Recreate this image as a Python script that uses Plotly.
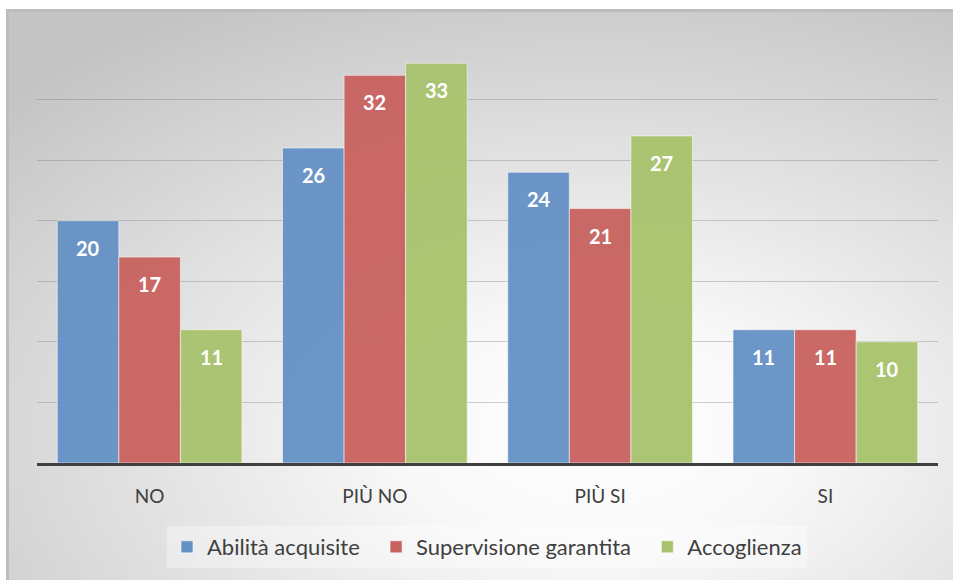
import base64
import plotly.graph_objects as go

categories = ["NO", "PIÙ NO", "PIÙ SI", "SI"]
series_names = ["Abilità acquisite", "Supervisione garantita", "Accoglienza"]
abilita = [20, 26, 24, 11]
supervisione = [17, 32, 21, 11]
accoglienza = [11, 33, 27, 10]
series_values = [abilita, supervisione, accoglienza]
colors = ["#6591c6", "#c8625f", "#a8c36d"]

W, H = 953, 580
ML, MR, MT, MB = 37, 15, 39, 117
PW, PH = W - ML - MR, H - MT - MB
BARGAP = 0.18
NBSP = "\u00a0"

fig = go.Figure()
for k, (name, vals, col) in enumerate(zip(series_names, series_values, colors)):
    pad = NBSP * 2 if k < len(series_names) - 1 else ""
    fig.add_trace(go.Bar(
        x=categories, y=vals, name=name + pad,
        marker=dict(color=col, opacity=0.95,
                    line=dict(color="rgba(255,255,255,0.55)", width=1)),
        hoverinfo="skip",
    ))

# data labels (inside end, Excel style)
bar_px = PW / len(categories) * (1 - BARGAP) / len(series_names)
annotations = []
for i, vals in enumerate(series_values):
    shift = (i - 1) * bar_px
    for c, v in zip(categories, vals):
        annotations.append(dict(
            x=c, y=v, xref="x", yref="y", text=str(v), showarrow=False,
            xshift=shift, yshift=-27, yanchor="middle",
            font=dict(family="Lato", size=20, color="white", weight="bold"),
        ))

# background: radial gradient frame
fx0, fx1 = 6, 957
fy0, fy1 = 9, 584
fw, fh = fx1 - fx0, fy1 - fy0
svg = f'''<svg xmlns="http://www.w3.org/2000/svg" width="{fw}" height="{fh}">
<defs><radialGradient id="g" cx="0.62" cy="0.74" r="0.85" fx="0.62" fy="0.74">
<stop offset="0" stop-color="#ffffff"/><stop offset="0.25" stop-color="#f8f8f8"/>
<stop offset="1" stop-color="#c4c4c4"/></radialGradient></defs>
<rect x="1.5" y="1.5" width="{fw-3}" height="{fh-3}" fill="url(#g)" stroke="#bdbdbd" stroke-width="3"/>
</svg>'''
src = "data:image/svg+xml;base64," + base64.b64encode(svg.encode()).decode()

def px_to_paper_x(px):
    return (px - ML) / PW

def px_to_paper_y(py):
    return (H - MB - py) / PH

fig.add_layout_image(dict(
    source=src, xref="paper", yref="paper",
    x=px_to_paper_x(fx0), y=px_to_paper_y(fy0),
    sizex=fw / PW, sizey=fh / PH,
    xanchor="left", yanchor="top", sizing="stretch", layer="below",
))

fig.update_layout(
    width=W, height=H,
    margin=dict(l=ML, r=MR, t=MT, b=MB),
    paper_bgcolor="white", plot_bgcolor="rgba(0,0,0,0)",
    barmode="group", bargap=BARGAP, bargroupgap=0,
    font=dict(family="Lato", color="#404040"),
    annotations=annotations,
    showlegend=True,
    legend=dict(
        orientation="h", x=px_to_paper_x(487), y=px_to_paper_y(547),
        xanchor="center", yanchor="middle",
        bgcolor="rgba(255,255,255,0.35)",
        font=dict(family="Lato", size=22, color="#404040"),
        itemwidth=30,
    ),
    xaxis=dict(
        showline=True, linecolor="#404040", linewidth=3,
        ticks="", tickfont=dict(family="Lato", size=19, color="#404040"),
        ticklabelstandoff=14, showgrid=False,
    ),
    yaxis=dict(
        range=[0, 35], dtick=5, showticklabels=False, showgrid=True,
        gridcolor="rgba(120,120,120,0.35)", gridwidth=1, zeroline=False,
    ),
)

fig.write_html(
    "out.html",
    config={"displayModeBar": False},
    post_script="document.body.style.margin='0';document.body.style.overflow='hidden';",
)
